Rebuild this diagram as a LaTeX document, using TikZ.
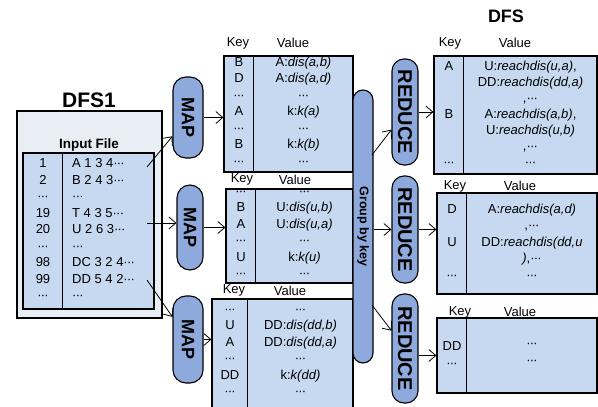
\documentclass[tikz,border=0pt]{standalone}
\usepackage{fontspec}
\setmainfont{Liberation Sans}
\usetikzlibrary{arrows.meta,calc}
\definecolor{tabblue}{RGB}{198,217,241}
\definecolor{ovalblue}{RGB}{142,170,220}
\definecolor{boxgray}{RGB}{233,237,244}
\newcommand{\dd}{·\kern-.06em·\kern-.06em·}
\begin{document}
\begin{tikzpicture}[x=1pt,y=-1pt,
  tab/.style={draw, fill=tabblue, line width=1.2pt, inner sep=0pt},
  oval/.style={draw, fill=ovalblue, line width=1.1pt, rotate=-90, inner sep=0pt},
  map/.style={oval, rounded corners=13pt, font=\bfseries\fontsize{18}{18}\selectfont},
  red/.style={oval, rounded corners=12pt, font=\bfseries\fontsize{20}{20}\selectfont},
  col/.style={align=center, inner sep=0pt, font=\fontsize{13}{16.5}\selectfont,
              execute at begin node=\vphantom{Ag}, execute at end node=\vphantom{Ag}},
  hd/.style={inner sep=0pt, font=\fontsize{13}{13}\selectfont},
  ttl/.style={inner sep=0pt, font=\bfseries\fontsize{18}{18}\selectfont},
  ar/.style={-{Straight Barb[length=7pt,width=12pt]}, line width=0.8pt}]
\useasboundingbox (0,0) rectangle (598,407);
% input
\node[ttl, font=\bfseries\fontsize{21}{21}\selectfont] (dfs1) at (89,100) {DFS1};
\node[draw, fill=boxgray, line width=1.2pt, minimum width=145, minimum height=207] (inbox) at (89.5,214.5) {};
\node[ttl, font=\bfseries\fontsize{13.5}{13.5}\selectfont] (inlab) at (89,145) {Input File};
\node[tab, minimum width=131, minimum height=156] (intab) at (88.5,231) {};
\draw[line width=1.2pt] ($(intab.north west)+(40,0)$) -- ($(intab.south west)+(40,0)$);
\node[col] (innum) at (43,230.5) {1\\2\\\dd\\19\\20\\\dd\\98\\99\\\dd};
\node[col, align=left, anchor=west] (inval) at (72,230.5)
  {A 1 3 4\dd\\B 2 4 3\dd\\\dd\\T 4 3 5\dd\\U 2 6 3\dd\\\dd\\DC 3 2 4\dd\\DD 5 4 2\dd\\\dd};
% map
\node[map, minimum width=81, minimum height=30] (map1) at (188,117.5) {MAP};
\node[map, minimum width=85, minimum height=26] (map2) at (190,227.5) {MAP};
\node[map, minimum width=87, minimum height=30] (map3) at (188,339.5) {MAP};
\node[tab, minimum width=129, minimum height=116] (t1) at (288.5,114) {};
\node[tab, minimum width=127, minimum height=94] (t2) at (289.5,236) {};
\node[tab, minimum width=141, minimum height=113] (t3) at (282.5,355.5) {};
\draw[line width=1.2pt] ($(t1.north west)+(30,0)$) -- ($(t1.south west)+(30,0)$);
\draw[line width=1.2pt] ($(t2.north west)+(30,0)$) -- ($(t2.south west)+(30,0)$);
\draw[line width=1.2pt] ($(t3.north west)+(36,0)$) -- ($(t3.south west)+(36,0)$);
\node[hd] (t1k) at (238,43) {Key};
\node[hd] (t1v) at (293,43) {Value};
\node[hd] (t2k) at (242,179.5) {Key};
\node[hd] (t2v) at (295,179.5) {Value};
\node[hd] (t3k) at (234,290.5) {Key};
\node[hd] (t3v) at (290,290.5) {Value};
\node[col] (t1key) at (239,112.5) {B\\D\\\dd\\A\\\dd\\B\\\dd};
\node[col] (t1val) at (303.5,112.5)
  {A:\textit{dis(a,b)}\\A:\textit{dis(a,d)}\\\dd\\k:\textit{k(a)}\\\dd\\k:\textit{k(b)}\\\dd};
\node[col] (t2key) at (241,235.75) {\dd\\B\\A\\\dd\\U\\\dd};
\node[col] (t2val) at (304.5,235.75)
  {\dd\\U:\textit{dis(u,b)}\\U:\textit{dis(u,a)}\\\dd\\k:\textit{k(u)}\\\dd};
\node[col] (t3key) at (230,353.75) {\dd\\U\\A\\\dd\\DD\\\dd};
\node[col] (t3val) at (300.5,353.75)
  {\dd\\DD:\textit{dis(dd,b)}\\DD:\textit{dis(dd,a)}\\\dd\\k:\textit{k(dd)}\\\dd};
% group and reduce
\node[oval, rounded corners=10pt, minimum width=273, minimum height=20,
      font=\bfseries\fontsize{12.5}{12.5}\selectfont] (grp) at (363,226.5) {Group by key};
\node[red, minimum width=106, minimum height=26] (r1) at (405,112) {REDUCE};
\node[red, minimum width=107, minimum height=26] (r2) at (405,229.5) {REDUCE};
\node[red, minimum width=109, minimum height=26] (r3) at (405,348.5) {REDUCE};
\node[ttl] (dfs) at (506,16) {DFS};
\node[tab, minimum width=163, minimum height=118] (d1) at (515.5,115) {};
\node[tab, minimum width=160, minimum height=101] (d2) at (517,243.5) {};
\node[tab, minimum width=160, minimum height=75] (d3) at (517,355.5) {};
\draw[line width=1.2pt] ($(d1.north west)+(30,0)$) -- ($(d1.south west)+(30,0)$);
\draw[line width=1.2pt] ($(d2.north west)+(30,0)$) -- ($(d2.south west)+(30,0)$);
\draw[line width=1.2pt] ($(d3.north west)+(30,0)$) -- ($(d3.south west)+(30,0)$);
\node[hd] (d1k) at (450,43) {Key};
\node[hd] (d1v) at (515,43) {Value};
\node[hd] (d2k) at (455,186) {Key};
\node[hd] (d2v) at (520,186) {Value};
\node[hd] (d3k) at (460,312) {Key};
\node[hd] (d3v) at (520,312) {Value};
\node[col, font=\fontsize{13}{16}\selectfont] (d1key) at (449,115) {A\\[32pt]B\\[32pt]\dd};
\node[col, font=\fontsize{13}{16}\selectfont] (d1val) at (530.5,115)
  {U:\textit{reachdis(u,a)},\\DD:\textit{reachdis(dd,a)}\\,\dd\\A:\textit{reachdis(a,b)},\\U:\textit{reachdis(u,b)}\\,\dd\\\dd};
\node[col] (d2key) at (452,243) {D\\[16.5pt]U\\[16.5pt]\dd};
\node[col] (d2val) at (532,243)
  {A:\textit{reachdis(a,d)}\\,\dd\\DD:\textit{reachdis(dd,u}\\\textit{)},\dd\\\dd};
\node[col, font=\fontsize{13}{17}\selectfont] (d3key) at (452,355.5) {DD\\\dd};
\node[col, font=\fontsize{13}{17}\selectfont] (d3val) at (532,355.5) {\dd\\\dd};
% connectors
\coordinate (s1) at (147,167);
\coordinate (s2) at (147,223);
\coordinate (s3) at (147,280);
\coordinate (g1) at (372,155);
\coordinate (g3) at (372,305);
\draw[ar] (s1) -- (map1);
\draw[ar] (s2) -- (s2 -| map2.south);
\draw[ar] (s3) -- (map3);
\draw[ar] (map1.north) -- (map1.north -| t1.west);
\draw[ar] (map2.north) -- (map2.north -| t2.west);
\draw[ar] (map3.north) -- (map3.north -| t3.west);
\draw[ar] (g1) -- (r1);
\draw[ar] (r2.south -| grp.north) -- (r2.south);
\draw[ar] (g3) -- (r3);
\draw[ar] (r1.north) -- (r1.north -| d1.west);
\draw[ar] (r2.north) -- (r2.north -| d2.west);
\draw[ar] (r3.north |- d3) -- (d3.west);
\end{tikzpicture}
\end{document}
